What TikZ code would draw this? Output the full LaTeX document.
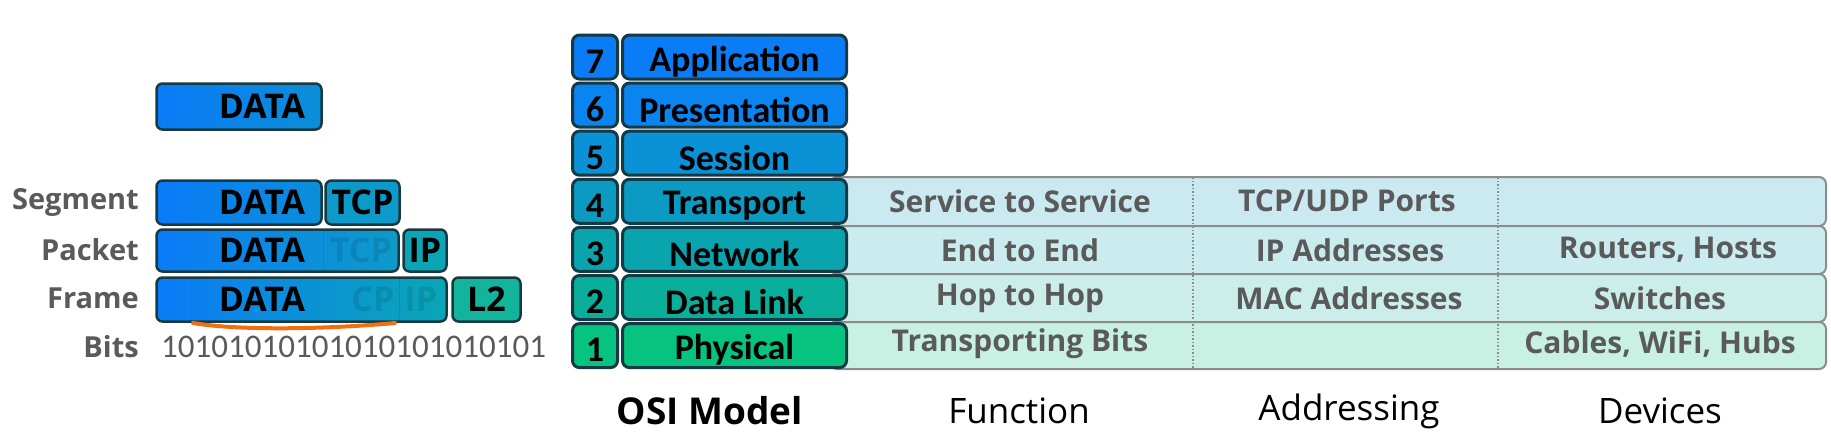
\documentclass[tikz,border=0pt]{standalone}
\usepackage{fontspec}
\setmainfont{Open Sans}
\newfontfamily\calfont{Carlito}
\newcommand{\myfs}[1]{\fontsize{#1}{#1}\selectfont}
\definecolor{bord}{HTML}{163A44}
\definecolor{cseven}{HTML}{0A7DF6}
\definecolor{csix}{HTML}{0A84EE}
\definecolor{cfive}{HTML}{0B91D6}
\definecolor{cfour}{HTML}{0A9AC2}
\definecolor{cthree}{HTML}{0AA4AE}
\definecolor{ctwo}{HTML}{0AAF9C}
\definecolor{cone}{HTML}{07C380}
\definecolor{rfour}{HTML}{CAE9F0}
\definecolor{rthree}{HTML}{CBECEE}
\definecolor{rtwo}{HTML}{CBEEEA}
\definecolor{rone}{HTML}{C9F1E3}
\definecolor{txtgray}{HTML}{5A5A5A}
\definecolor{rowline}{HTML}{8C8C8C}
\definecolor{dblue}{HTML}{0A7BF8}
\definecolor{dteal}{HTML}{0B8ED8}
\definecolor{tcpc}{HTML}{0E9AC8}
\definecolor{ipc}{HTML}{0AA6B6}
\definecolor{ltwoc}{HTML}{12B59B}
\definecolor{orangeline}{HTML}{F07010}
\begin{document}
\begin{tikzpicture}[x=1pt,y=-1pt,
  layer/.style={draw=bord, line width=3pt, rounded corners=7pt, minimum height=44pt, inner sep=0pt},
  layertext/.style={font=\calfont\bfseries\myfs{36}, text=black, inner sep=0pt},
  numbox/.style={layer, minimum width=45pt},
  namebox/.style={layer, minimum width=224pt},
  pdu/.style={draw=bord, line width=2.5pt, rounded corners=6pt, minimum height=44pt, inner sep=0pt},
  pdutext/.style={font=\bfseries\myfs{34}, text=black, inner sep=0pt},
  ghost/.style={pdutext, text opacity=0.1},
  graylab/.style={font=\bfseries\myfs{29}, text=txtgray, anchor=east, inner sep=0pt},
  cell/.style={font=\bfseries\myfs{30}, text=txtgray, inner sep=0pt},
  caption/.style={font=\myfs{35}, text=black, inner sep=0pt},
  tablerow/.style={draw=rowline, line width=2pt, rounded corners=7pt},
]
\useasboundingbox (0,0) rectangle (1831,437);
% ---- table rows ----
\path[tablerow, fill=rfour] (830,177) rectangle (1826,226);
\path[tablerow, fill=rthree] (830,226) rectangle (1826,274);
\path[tablerow, fill=rtwo] (830,274) rectangle (1826,322);
\path[tablerow, fill=rone] (830,322) rectangle (1826,369);
\coordinate (da) at (1193,177); \coordinate (db) at (1193,369);
\coordinate (dc) at (1498,177); \coordinate (dd) at (1498,369);
\draw[rowline, line width=1.5pt, dotted] (da) -- (db);
\draw[rowline, line width=1.5pt, dotted] (dc) -- (dd);
% ---- OSI layers ----
\foreach \n/\name/\col [count=\k from 0] in {7/Application/cseven,6/Presentation/csix,5/Session/cfive,4/Transport/cfour,3/Network/cthree,2/Data Link/ctwo,1/Physical/cone}{
  \node[numbox, fill=\col] (num\n) at (595,57+48.1*\k) {};
  \node[layertext] (numt\n) at (595,61.5+48.1*\k) {\n};
  \node[namebox, fill=\col] (lay\n) at (734.5,57+48.1*\k) {};
  \node[layertext] (layt\n) at (734.5,61.5+48.1*\k) {\name};
}
% ---- table texts ----
\node[cell] (f4) at (1020,201) {Service to Service};
\node[cell] (a4) at (1347,201) {TCP/UDP Ports};
\node[cell] (f3) at (1020,250) {End to End};
\node[cell] (a3) at (1350,250) {IP Addresses};
\node[cell] (v3) at (1668,250) {Routers, Hosts};
\node[cell] (f2) at (1020,298) {Hop to Hop};
\node[cell] (a2) at (1349,298) {MAC Addresses};
\node[cell] (v2) at (1660,298) {Switches};
\node[cell] (f1) at (1020,344) {Transporting Bits};
\node[cell] (v1) at (1660,344) {Cables, WiFi, Hubs};
% ---- captions ----
\node[caption, font=\bfseries\myfs{37}] (osi) at (710,411) {OSI Model};
\node[caption] (cfun) at (1019,411) {Function};
\node[caption] (cadr) at (1349,411) {Addressing};
\node[caption] (cdev) at (1660,411) {Devices};
% ---- PDUs ----
\node[pdu, left color=dblue, right color=dteal, minimum width=165pt, minimum height=46pt] (data0) at (239,106.5) {};
\node[pdutext] (data0t) at (262,106.5) {DATA};
% segment
\node[pdu, left color=dblue, right color=dteal, minimum width=165pt] (segd) at (239,202.5) {};
\node[pdutext] (segdt) at (262,202.5) {DATA};
\node[pdu, fill=tcpc, minimum width=74pt] (segt) at (362.5,202.5) {};
\node[pdutext] (segtt) at (segt) {TCP};
% packet
\node[pdu, left color=dblue, right color=tcpc, minimum width=242pt, minimum height=42pt] (pktd) at (277.5,250.5) {};
\node[pdutext] (pktdt) at (262,250.5) {DATA};
\node[ghost] (pktg) at (361,250.5) {TCP};
\coordinate (pl1) at (323,231); \coordinate (pl2) at (323,270);
\draw[bord, opacity=0.15, line width=1pt] (pl1) -- (pl2);
\node[pdu, fill=ipc, minimum width=43pt, minimum height=42pt] (pkti) at (425,250.5) {};
\node[pdutext] (pktit) at (pkti) {IP};
% frame
\node[pdu, left color=dblue, right color=ipc, minimum width=290pt] (frd) at (301.5,299.5) {};
\node[pdutext] (frdt) at (262,299.5) {DATA};
\node[ghost] (frg1) at (373,299.5) {CP};
\node[ghost] (frg2) at (421,299.5) {IP};
\coordinate (fl1) at (399,279); \coordinate (fl2) at (399,320);
\draw[bord, opacity=0.15, line width=1pt] (fl1) -- (fl2);
\node[pdu, fill=ltwoc, minimum width=68pt] (frl) at (486.5,299.5) {};
\node[pdutext] (frlt) at (frl) {L2};
% orange underline
\coordinate (o1) at (193,323); \coordinate (o2) at (395,323);
\draw[orangeline, line width=4pt, line cap=round] (o1) .. controls (240,331) and (330,329) .. (o2);
% labels
\node[graylab] (lseg) at (139,202) {Segment};
\node[graylab] (lpkt) at (139,250) {Packet};
\node[graylab] (lfr) at (139,298) {Frame};
\node[graylab] (lbit) at (139,347) {Bits};
\node[font=\calfont\myfs{33}, text=txtgray, anchor=west, inner sep=0pt] (bits) at (161,347) {10101010101010101010101};
\end{tikzpicture}
\end{document}
